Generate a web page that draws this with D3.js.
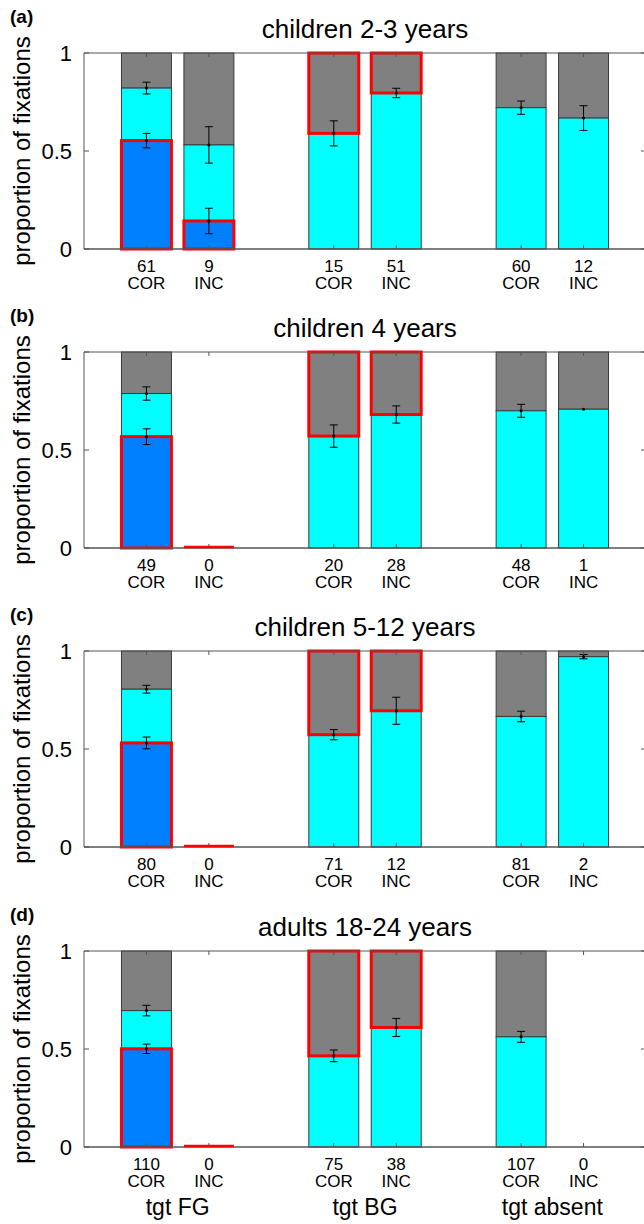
<!DOCTYPE html>
<html>
<head>
<meta charset="utf-8">
<script src="https://cdn.jsdelivr.net/npm/d3@7"></script>
<style>
  body { margin: 0; background: #fff; }
  svg { display: block; font-family: "Liberation Sans", Arial, sans-serif; }
</style>
</head>
<body>
<svg></svg>
<script>
const size = {w: 644, h: 1224};
const svg = d3.select('svg').attr('width', size.w).attr('height', size.h);

// data
const panelLetters = ['(a)', '(b)', '(c)', '(d)'];
const panelTitles = ['children 2-3 years', 'children 4 years', 'children 5-12 years', 'adults 18-24 years'];
const barPos = [1, 2, 4, 5, 7, 8];
const barCond = ['FG', 'FG', 'BG', 'BG', 'ABS', 'ABS'];
const barLabels = ['COR', 'INC', 'COR', 'INC', 'COR', 'INC'];
const groupLabels = ['tgt FG', 'tgt BG', 'tgt absent'];
const groupPos = [1.5, 4.5, 7.5];
const yTicks = [0, 0.5, 1];

const counts = [
    [61, 9, 15, 51, 60, 12],
    [49, 0, 20, 28, 48, 1],
    [80, 0, 71, 12, 81, 2],
    [110, 0, 75, 38, 107, 0]
];
// top of dark blue segment (FG bars only)
const blueTop = [
    [0.553, 0.143, null, null, null, null],
    [0.568, 0, null, null, null, null],
    [0.531, 0, null, null, null, null],
    [0.501, 0, null, null, null, null]
];
const blueErr = [
    [0.037, 0.065, null, null, null, null],
    [0.040, 0, null, null, null, null],
    [0.030, 0, null, null, null, null],
    [0.024, 0, null, null, null, null]
];
// top of cyan segment (rest up to 1 is grey)
const cyanTop = [
    [0.821, 0.531, 0.590, 0.796, 0.721, 0.668],
    [0.788, null, 0.571, 0.681, 0.700, 0.708],
    [0.805, null, 0.573, 0.695, 0.666, 0.971],
    [0.696, null, 0.465, 0.610, 0.562, null]
];
const cyanErr = [
    [0.030, 0.093, 0.064, 0.024, 0.034, 0.063],
    [0.034, null, 0.057, 0.044, 0.033, 0],
    [0.020, null, 0.026, 0.069, 0.027, 0.011],
    [0.027, null, 0.030, 0.046, 0.028, null]
];

const colors = {blue: '#0080ff', cyan: '#00ffff', grey: '#808080', red: '#ff0000', edge: '#3a3a3a'};

const plot = {l: 84, r: 646, h: 196};
const panelTops = [53, 352, 651, 951];
const barW = 0.8;

const x = d3.scaleLinear().domain([0, 9]).range([plot.l, plot.r]);

panelTops.forEach(function (top, p) {
    const y = d3.scaleLinear().domain([0, 1]).range([top + plot.h, top]);
    const g = svg.append('g').classed('panel', true);

    g.append('text')
        .attr('x', 10).attr('y', top - 30)
        .attr('font-size', 19).attr('font-weight', 'bold')
        .text(panelLetters[p]);

    g.append('text')
        .attr('x', (plot.l + plot.r) / 2).attr('y', top - 15)
        .attr('text-anchor', 'middle').attr('font-size', 26)
        .text(panelTitles[p]);

    g.append('text')
        .attr('transform', 'translate(30,' + (top + plot.h / 2) + ') rotate(-90)')
        .attr('text-anchor', 'middle').attr('font-size', 24)
        .text('proportion of fixations');

    // bars
    const zeroLines = [];
    barPos.forEach(function (pos, i) {
        const x0 = x(pos - barW / 2), w = x(pos + barW / 2) - x0;
        const ct = cyanTop[p][i], bt = blueTop[p][i];
        const bars = g.append('g');
        if (ct !== null) {
            bars.append('rect').attr('x', x0).attr('width', w)
                .attr('y', y(1)).attr('height', y(ct) - y(1))
                .attr('fill', colors.grey).attr('stroke', colors.edge).attr('stroke-width', 1);
            const cb = bt !== null ? bt : 0;
            bars.append('rect').attr('x', x0).attr('width', w)
                .attr('y', y(ct)).attr('height', y(cb) - y(ct))
                .attr('fill', colors.cyan).attr('stroke', colors.edge).attr('stroke-width', 1);
        }
        if (bt !== null && bt > 0) {
            bars.append('rect').attr('x', x0).attr('width', w)
                .attr('y', y(bt)).attr('height', y(0) - y(bt))
                .attr('fill', colors.blue).attr('stroke', colors.edge).attr('stroke-width', 1);
        }
        // red outline on the target segment
        if (barCond[i] === 'FG' && bt !== null) {
            if (bt > 0) {
                bars.append('rect').attr('x', x0).attr('width', w)
                    .attr('y', y(bt)).attr('height', y(0) - y(bt))
                    .attr('fill', 'none').attr('stroke', colors.red).attr('stroke-width', 3);
            } else {
                zeroLines.push({x0: x0, w: w});
            }
        }
        if (barCond[i] === 'BG' && ct !== null) {
            bars.append('rect').attr('x', x0).attr('width', w)
                .attr('y', y(1)).attr('height', y(ct) - y(1))
                .attr('fill', 'none').attr('stroke', colors.red).attr('stroke-width', 3);
        }
    });

    // error bars
    const errs = [];
    barPos.forEach(function (pos, i) {
        if (blueTop[p][i] !== null && blueTop[p][i] > 0) errs.push({pos: pos, v: blueTop[p][i], e: blueErr[p][i]});
        if (cyanTop[p][i] !== null) errs.push({pos: pos, v: cyanTop[p][i], e: cyanErr[p][i]});
    });
    const eg = g.append('g').attr('stroke', '#000').attr('stroke-width', 1);
    errs.forEach(function (d) {
        const cx = x(d.pos);
        if (d.e > 0) {
            eg.append('line').attr('x1', cx).attr('x2', cx).attr('y1', y(d.v - d.e)).attr('y2', y(d.v + d.e));
            eg.append('line').attr('x1', cx - 4).attr('x2', cx + 4).attr('y1', y(d.v - d.e)).attr('y2', y(d.v - d.e));
            eg.append('line').attr('x1', cx - 4).attr('x2', cx + 4).attr('y1', y(d.v + d.e)).attr('y2', y(d.v + d.e));
        }
        g.append('circle').attr('cx', cx).attr('cy', y(d.v)).attr('r', 1.5).attr('fill', '#000');
    });

    // axes box and inward ticks
    const ax = g.append('g').attr('stroke', '#555').attr('stroke-width', 1).attr('fill', 'none');
    ax.append('line').attr('x1', plot.l).attr('x2', plot.r).attr('y1', y(1)).attr('y2', y(1));
    ax.append('line').attr('x1', plot.l).attr('x2', plot.r).attr('y1', y(0)).attr('y2', y(0)).attr('stroke-width', 1.5);
    ax.append('line').attr('x1', plot.l).attr('x2', plot.l).attr('y1', y(0)).attr('y2', y(1));
    ax.append('line').attr('x1', plot.r).attr('x2', plot.r).attr('y1', y(0)).attr('y2', y(1));
    yTicks.forEach(function (t) {
        ax.append('line').attr('x1', plot.l).attr('x2', plot.l + 5).attr('y1', y(t)).attr('y2', y(t));
        ax.append('line').attr('x1', plot.r - 5).attr('x2', plot.r).attr('y1', y(t)).attr('y2', y(t));
    });
    barPos.forEach(function (pos) {
        ax.append('line').attr('x1', x(pos)).attr('x2', x(pos)).attr('y1', y(0)).attr('y2', y(0) - 4);
        ax.append('line').attr('x1', x(pos)).attr('x2', x(pos)).attr('y1', y(1)).attr('y2', y(1) + 4);
    });

    // zero-height target bars show as a red line on the baseline
    zeroLines.forEach(function (d) {
        g.append('line').attr('x1', d.x0).attr('x2', d.x0 + d.w)
            .attr('y1', y(0) - 1).attr('y2', y(0) - 1)
            .attr('stroke', colors.red).attr('stroke-width', 2.5);
    });

    g.selectAll('text.ytick')
        .data(yTicks)
        .enter()
        .append('text')
        .classed('ytick', true)
        .attr('x', 72).attr('y', d => y(d) + 8)
        .attr('text-anchor', 'end').attr('font-size', 22)
        .text(d => d);

    // bar labels
    barPos.forEach(function (pos, i) {
        g.append('text').attr('x', x(pos)).attr('y', y(0) + 23)
            .attr('text-anchor', 'middle').attr('font-size', 17)
            .text(counts[p][i]);
        g.append('text').attr('x', x(pos)).attr('y', y(0) + 40)
            .attr('text-anchor', 'middle').attr('font-size', 17)
            .text(barLabels[i]);
    });

    if (p === panelTops.length - 1) {
        groupPos.forEach(function (pos, k) {
            g.append('text').attr('x', x(pos)).attr('y', y(0) + 68)
                .attr('text-anchor', 'middle').attr('font-size', 23)
                .text(groupLabels[k]);
        });
    }
});
</script>
</body>
</html>
